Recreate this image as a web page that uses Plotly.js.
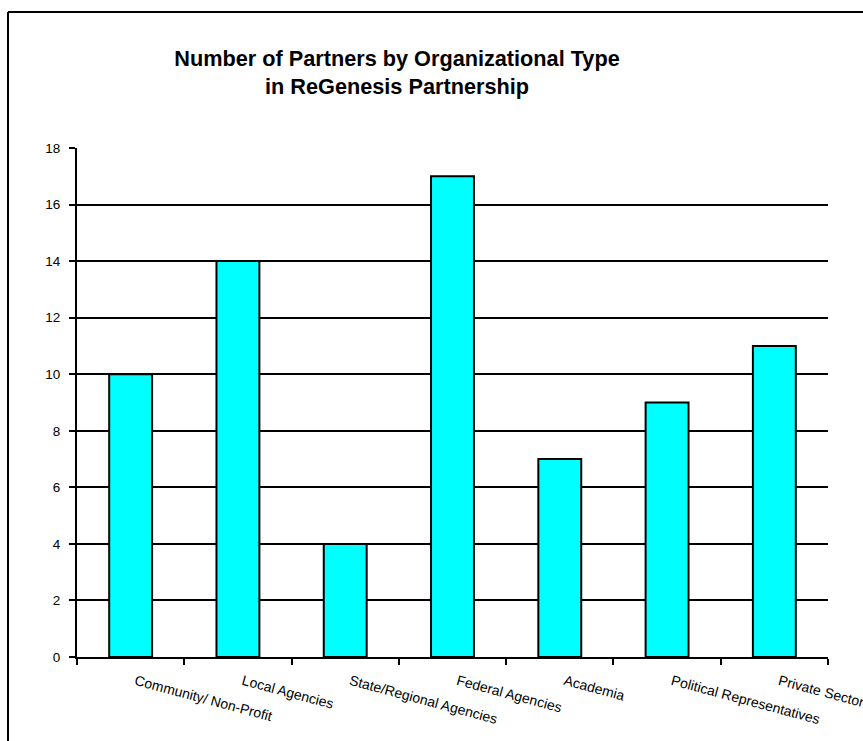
<!DOCTYPE html>
<html><head><meta charset="utf-8">
<script src="https://cdn.plot.ly/plotly-3.0.1.min.js"></script>
<style>html,body{margin:0;padding:0;background:#fff;}</style>
</head><body>
<div id="chart" style="width:863px;height:741px;"></div>
<script>
const categories = ["Community/ Non-Profit","Local Agencies","State/Regional Agencies","Federal Agencies","Academia","Political Representatives","Private Sector"];
const partners = [10, 14, 4, 17, 7, 9, 11];
const yTicks = [0, 2, 4, 6, 8, 10, 12, 14, 16, 18];
const gridTicks = [2, 4, 6, 8, 10, 12, 14, 16];

const font = "Arial, 'Liberation Sans', sans-serif";
const L = 77, R = 35, T = 148, B = 84, W = 863, H = 741;
const pw = W - L - R, ph = H - T - B;
const px = v => (v - L) / pw;
const py = v => (H - B - v) / ph;

const data = [{
  type: "bar", x: categories, y: partners,
  marker: {color: "#00FFFF", line: {color: "#000", width: 2}},
  hoverinfo: "none"
}, {
  type: "scatter", x: [categories[0]], y: [0], yaxis: "y2", mode: "none", hoverinfo: "none", showlegend: false
}];

const layout = {
  width: W, height: H,
  margin: {l: L, r: R, t: T, b: B, pad: 0},
  paper_bgcolor: "#fff", plot_bgcolor: "rgba(0,0,0,0)",
  showlegend: false,
  bargap: 0.6,
  font: {family: font, color: "#000", size: 13},
  title: {text: "<b>Number of Partners by Organizational Type<br>in ReGenesis Partnership</b>",
          font: {family: font, size: 21.7, color: "#000"},
          x: 397 / W, xanchor: "center", y: 1 - 66 / H, yanchor: "middle"},
  xaxis: {
    type: "category", showgrid: false, zeroline: false,
    showline: true, linecolor: "#000", linewidth: 2,
    ticks: "outside", tickson: "boundaries", ticklen: 6, tickwidth: 2, tickcolor: "#000",
    tickangle: 15, ticklabelshift: 5, ticklabelstandoff: 9,
    tickfont: {family: font, size: 14, color: "#000"},
    automargin: false
  },
  yaxis: {
    range: [0, 18], tickvals: yTicks, showgrid: false, zeroline: false,
    showline: true, linecolor: "#000", linewidth: 2,
    ticks: "outside", ticklen: 6, tickwidth: 2, tickcolor: "#000", ticklabelstandoff: 6,
    tickfont: {family: font, size: 13.5, color: "#000"}, automargin: false
  },
  yaxis2: {
    overlaying: "y", range: [0, 18], tickvals: gridTicks, showticklabels: false,
    showgrid: true, gridcolor: "#000", gridwidth: 2, zeroline: false, showline: false, ticks: ""
  },
  shapes: [
    {type: "line", xref: "paper", yref: "paper", x0: px(8), x1: px(8), y0: py(12), y1: py(H + 20),
     line: {color: "#000", width: 2}},
    {type: "line", xref: "paper", yref: "paper", x0: px(8), x1: px(W + 20), y0: py(12), y1: py(12),
     line: {color: "#000", width: 2}}
  ]
};

Plotly.newPlot("chart", data, layout, {staticPlot: true, displayModeBar: false});
</script>
</body></html>
